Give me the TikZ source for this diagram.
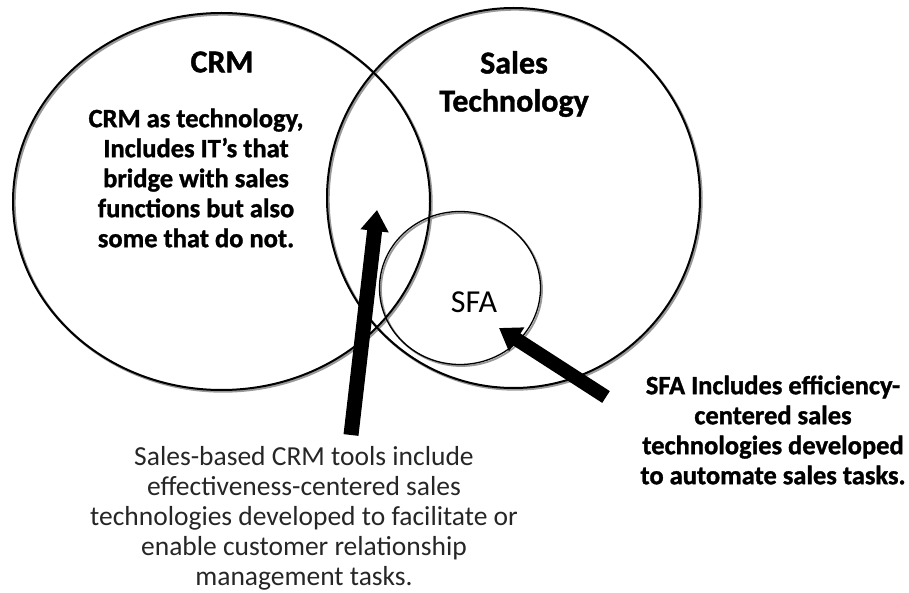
\documentclass[tikz,border=0pt]{standalone}
\usepackage{fontspec}
\setmainfont{Carlito}
\newfontfamily\heavyfont[FakeBold=1.2]{Carlito}
\usetikzlibrary{shapes.geometric,arrows.meta}
\begin{document}
\begin{tikzpicture}[x=1pt,y=-1pt,
  venn/.style={ellipse, draw=black, line width=2pt, inner sep=0pt, outer sep=0pt},
  vennshadow/.style={ellipse, draw=black!40, line width=2.4pt, inner sep=0pt, outer sep=0pt},
  bigarrow/.style={draw=black, line width=15pt, -{Triangle[length=21pt,width=27pt]}},
  headtext/.style={font=\heavyfont\bfseries\fontsize{32}{38}\selectfont, align=center, inner sep=0pt},
  boldtext/.style={font=\heavyfont\bfseries\fontsize{26.5}{30}\selectfont, align=center, inner sep=0pt},
  plaintext/.style={font=\fontsize{27.5}{30}\selectfont, align=center, inner sep=0pt, text=black!85}
]
\useasboundingbox (0,0) rectangle (909,593);
\fill[white] (0,0) rectangle (909,593);
% shadows
\node[vennshadow, minimum width=417pt, minimum height=377pt] (crmshadow) at (223,203) {};
\node[vennshadow, minimum width=373pt, minimum height=380pt] (stshadow) at (515,199.5) {};
\node[vennshadow, line width=1.8pt, minimum width=161pt, minimum height=153pt] (sfashadow) at (461.5,289.5) {};
% rings
\node[venn, minimum width=417pt, minimum height=377pt] (crm) at (221.5,201.5) {};
\node[venn, minimum width=373pt, minimum height=380pt] (st) at (513.5,198) {};
\node[venn, line width=1.3pt, minimum width=161pt, minimum height=153pt] (sfa) at (460,288) {};
% labels
\node[headtext] (crmlabel) at (222,62) {CRM};
\node[headtext] (stlabel) at (514,84) {Sales\\Technology};
\node[boldtext] (crmtext) at (196,178) {CRM as technology,\\Includes IT’s that\\bridge with sales\\functions but also\\some that do not.};
\node[font=\fontsize{32}{34}\selectfont, inner sep=0pt] (sfalabel) at (474,302) {SFA};
\node[boldtext] (sfatext) at (773,430) {SFA Includes efficiency-\\centered sales\\technologies developed\\to automate sales tasks.};
\node[plaintext] (crmtools) at (304,518) {Sales-based CRM tools include\\effectiveness-centered sales\\technologies developed to facilitate or\\enable customer relationship\\management tasks.};
% arrows
\coordinate (a1tail) at (351,435);
\coordinate (a1tip) at (377,210);
\coordinate (a2tail) at (606,397);
\coordinate (a2tip) at (499,328);
\draw[bigarrow] (a1tail) -- (a1tip);
\draw[bigarrow, line width=14pt] (a2tail) -- (a2tip);
\end{tikzpicture}
\end{document}
